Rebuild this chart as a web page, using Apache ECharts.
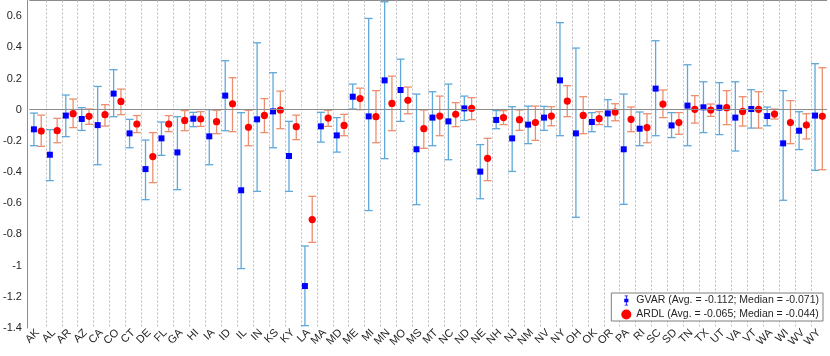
<!DOCTYPE html>
<html>
<head>
<meta charset="utf-8">
<script src="https://cdn.jsdelivr.net/npm/echarts@6/dist/echarts.min.js"></script>
<style>
  html, body { margin: 0; padding: 0; background: #fff; }
  #main { width: 830px; height: 356px; }
</style>
</head>
<body>
<div id="main"></div>
<script>
const states = ['AK','AL','AR','AZ','CA','CO','CT','DE','FL','GA','HI','IA','ID','IL','IN','KS','KY','LA','MA','MD',
  'ME','MI','MN','MO','MS','MT','NC','ND','NE','NH','NJ','NM','NV','NY','OH','OK','OR','PA','RI','SC',
  'SD','TN','TX','UT','VA','VT','WA','WI','WV','WY'];

// GVAR estimates and interval bounds
const gvarEst = [-0.126,-0.289,-0.038,-0.06,-0.099,0.103,-0.152,-0.381,-0.184,-0.274,-0.058,-0.171,0.09,-0.517,-0.062,-0.011,-0.297,-1.131,-0.107,-0.165,
  0.083,-0.043,0.188,0.126,-0.254,-0.051,-0.075,0.008,-0.397,-0.066,-0.184,-0.096,-0.051,0.188,-0.152,-0.079,-0.024,-0.254,-0.122,0.135,
  -0.101,0.026,0.015,0.013,-0.051,0.004,-0.041,-0.216,-0.135,-0.038];
const gvarLow = [-0.231,-0.455,-0.173,-0.133,-0.353,-0.045,-0.244,-0.577,-0.293,-0.513,-0.109,-0.353,-0.135,-1.019,-0.524,-0.244,-0.524,-1.385,-0.208,-0.272,
  0.004,-0.647,-0.314,-0.075,-0.609,-0.231,-0.321,-0.069,-0.571,-0.122,-0.396,-0.218,-0.133,-0.167,-0.69,-0.141,-0.109,-0.607,-0.231,-0.167,
  -0.179,-0.231,-0.147,-0.16,-0.265,-0.118,-0.103,-0.581,-0.256,-0.389];
const gvarHigh = [-0.022,-0.128,0.094,0.013,0.149,0.256,-0.062,-0.195,-0.079,-0.045,-0.017,0.0,0.314,-0.019,0.429,0.237,-0.075,-0.874,-0.017,-0.051,
  0.164,0.585,0.692,0.324,0.1,0.115,0.164,0.087,-0.224,-0.006,0.019,0.023,0.021,0.558,0.395,-0.019,0.064,0.1,-0.015,0.442,
  -0.019,0.288,0.179,0.173,0.179,0.128,0.017,0.122,-0.013,0.295];

// ARDL estimates and interval bounds
const ardlEst = [-0.137,-0.135,-0.026,-0.043,-0.032,0.053,-0.092,-0.301,-0.092,-0.069,-0.06,-0.077,0.038,-0.113,-0.037,-0.002,-0.109,-0.705,-0.054,-0.101,
  0.071,-0.045,0.04,0.06,-0.122,-0.041,-0.03,0.008,-0.312,-0.051,-0.064,-0.083,-0.041,0.055,-0.037,-0.058,-0.015,-0.062,-0.115,0.036,
  -0.083,0.002,-0.002,0.013,-0.011,0.002,-0.028,-0.083,-0.099,-0.043];
const ardlLow = [-0.235,-0.212,-0.115,-0.094,-0.105,-0.032,-0.147,-0.468,-0.141,-0.135,-0.107,-0.154,-0.141,-0.231,-0.147,-0.122,-0.192,-0.851,-0.107,-0.167,
  0.0,-0.212,-0.135,-0.026,-0.248,-0.167,-0.109,-0.064,-0.455,-0.096,-0.133,-0.197,-0.103,-0.045,-0.154,-0.096,-0.071,-0.141,-0.212,-0.051,
  -0.158,-0.086,-0.043,-0.096,-0.105,-0.118,-0.06,-0.218,-0.188,-0.385];
const ardlHigh = [-0.035,-0.056,0.068,0.004,0.032,0.132,-0.038,-0.147,-0.038,-0.006,-0.013,-0.004,0.205,-0.004,0.071,0.119,-0.035,-0.556,-0.004,-0.03,
  0.138,0.122,0.215,0.145,-0.002,0.087,0.045,0.077,-0.184,-0.006,-0.002,0.023,0.019,0.154,0.083,-0.013,0.038,0.017,-0.026,0.126,
  -0.019,0.09,0.036,0.122,0.083,0.115,0.004,0.058,-0.026,0.269];

const gvarName = 'GVAR (Avg. = -0.112; Median = -0.071)';
const ardlName = 'ARDL (Avg. = -0.065; Median = -0.044)';

const FONT = '"Liberation Sans", Arial, sans-serif';

function toRows(est, lo, hi) {
  return est.map((v, i) => [i, v, lo[i], hi[i]]);
}

// error bar + marker, shifted sideways by dx pixels
function errorBar(dx, barColor, markColor, round) {
  return function (params, api) {
    const i = api.value(0);
    const p = api.coord([i, api.value(1)]);
    const lo = api.coord([i, api.value(2)]);
    const hi = api.coord([i, api.value(3)]);
    const x = p[0] + dx;
    const cap = 4;
    const st = { stroke: barColor, lineWidth: 1.3 };
    const marker = round
      ? { type: 'circle', shape: { cx: x, cy: p[1], r: 3.6 }, style: { fill: markColor } }
      : { type: 'rect', shape: { x: x - 3, y: p[1] - 3, width: 6, height: 6 }, style: { fill: markColor } };
    return {
      type: 'group',
      children: [
        { type: 'line', shape: { x1: x, y1: lo[1], x2: x, y2: hi[1] }, style: st },
        { type: 'line', shape: { x1: x - cap, y1: lo[1], x2: x + cap, y2: lo[1] }, style: st },
        { type: 'line', shape: { x1: x - cap, y1: hi[1], x2: x + cap, y2: hi[1] }, style: st },
        marker
      ]
    };
  };
}

// dotted divider on the right edge of each category band
function divider(params, api) {
  const c = api.coord([api.value(0), 0]);
  const band = api.size([1, 0])[0];
  const x = Math.round(c[0] + band / 2) + 0.5;
  const cs = params.coordSys;
  return {
    type: 'line',
    shape: { x1: x, y1: cs.y, x2: x, y2: cs.y + cs.height },
    style: { stroke: '#bdbdbd', lineWidth: 1, lineDash: [2, 2] }
  };
}

const chart = echarts.init(document.getElementById('main'), null, { renderer: 'canvas' });

chart.setOption({
  backgroundColor: '#ffffff',
  animation: false,
  textStyle: { fontFamily: FONT },
  grid: { left: 27.7, right: 3.3, top: 0.5, bottom: 28 },
  legend: {
    orient: 'vertical',
    right: 7,
    top: 293,
    itemWidth: 10,
    itemHeight: 10,
    itemGap: 3,
    padding: [2, 4, 1, 10],
    borderColor: '#7f7f7f',
    borderWidth: 1,
    backgroundColor: '#ffffff',
    textStyle: { fontSize: 10.5, color: '#262626', fontFamily: FONT },
    data: [
      { name: gvarName, icon: 'path://M3,0h4v1h-1.5v3h2v4h-2v3h1.5v1h-4v-1h1.5v-3h-2v-4h2v-3h-1.5z', itemStyle: { color: '#0000ff' } },
      { name: ardlName, icon: 'circle', itemStyle: { color: '#ff0000' } }
    ]
  },
  xAxis: [{
    type: 'category',
    data: states,
    boundaryGap: true,
    axisLine: { lineStyle: { color: '#8c8c8c', width: 1 } },
    axisTick: { show: false },
    axisLabel: {
      rotate: 45, fontSize: 11, color: '#262626', margin: 3, interval: 0,
      padding: [12, 0, 0, 0], fontFamily: FONT
    },
    splitLine: { show: false }
  }, {
    type: 'category',
    position: 'top',
    data: states,
    axisLine: { lineStyle: { color: '#8c8c8c', width: 1 } },
    axisTick: { show: false },
    axisLabel: { show: false },
    splitLine: { show: false }
  }],
  yAxis: {
    type: 'value',
    min: -1.4,
    max: 0.7,
    interval: 0.2,
    offset: 2.7,
    axisLine: { show: true, lineStyle: { color: '#8c8c8c', width: 1 } },
    axisTick: { show: false },
    axisLabel: {
      fontSize: 11, color: '#262626', margin: 5, showMaxLabel: false, fontFamily: FONT,
      formatter: v => (Math.abs(v) < 1e-9 ? '0' : String(+v.toFixed(1)))
    },
    splitLine: { show: false }
  },
  series: [{
    name: 'dividers',
    type: 'custom',
    silent: true,
    renderItem: divider,
    encode: { x: 0 },
    data: states.slice(0, -1).map((s, i) => [i]),
    z: 1
  }, {
    name: gvarName,
    type: 'custom',
    itemStyle: { color: '#0000ff' },
    renderItem: errorBar(-3.7, '#5ea8da', '#0000ff', false),
    encode: { x: 0, y: [1, 2, 3] },
    data: toRows(gvarEst, gvarLow, gvarHigh),
    z: 3,
    markLine: {
      silent: true,
      symbol: 'none',
      label: { show: false },
      lineStyle: { color: '#8c8c8c', type: 'solid', width: 1 },
      data: [{ yAxis: 0 }]
    }
  }, {
    name: ardlName,
    type: 'custom',
    itemStyle: { color: '#ff0000' },
    renderItem: errorBar(3.6, '#eb8f70', '#ff0000', true),
    encode: { x: 0, y: [1, 2, 3] },
    data: toRows(ardlEst, ardlLow, ardlHigh),
    z: 4
  }]
});
</script>
</body>
</html>
